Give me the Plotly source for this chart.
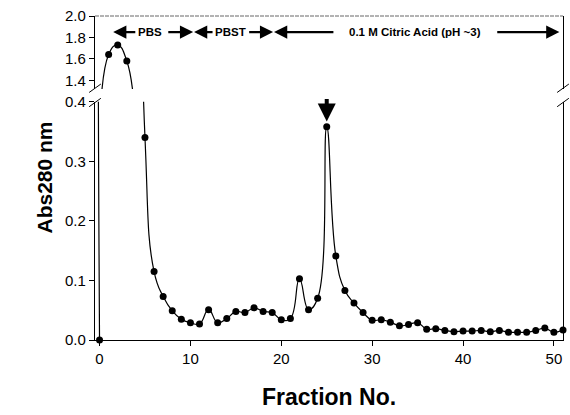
import plotly.graph_objects as go

# ---- data ----
fractions = list(range(0, 52))
abs280 = [0.0, 1.64, 1.73, 1.58, 1.05, 0.34, 0.115, 0.073, 0.049, 0.035,
          0.029, 0.027, 0.051, 0.029, 0.036, 0.048, 0.046, 0.054, 0.048, 0.046,
          0.034, 0.036, 0.103, 0.051, 0.070, 0.358, 0.141, 0.083, 0.062, 0.046,
          0.033, 0.034, 0.030, 0.024, 0.026, 0.029, 0.018, 0.019, 0.016, 0.014,
          0.015, 0.015, 0.016, 0.014, 0.016, 0.013, 0.013, 0.013, 0.016, 0.020,
          0.013, 0.017]

upper_range = [1.32, 2.0]
lower_range = [0.0, 0.4]
upper_ticks = [1.4, 1.6, 1.8, 2.0]
lower_ticks = [0.0, 0.1, 0.2, 0.3, 0.4]
x_ticks = [0, 10, 20, 30, 40, 50]

# buffer segments: (start, end, label, text_center, left_tail, right_tail)
segments = [
    (1.5, 10.3, "PBS", 5.6, 4.1, 7.4),
    (10.4, 19.1, "PBST", 14.4, 12.6, 16.3),
    (19.2, 50.6, "0.1 M Citric Acid (pH ~3)", 34.7, 25.9, 43.6),
]
segment_level = 1.85
peak_fraction = 25
peak_value = 0.367

FONT = "Liberation Sans, Arial, sans-serif"

fig = go.Figure()

line_style = dict(color="black", width=1.2, shape="spline", smoothing=1.3)

for yax, rng in (("y", upper_range), ("y2", lower_range)):
    fig.add_trace(go.Scatter(x=fractions, y=abs280, mode="lines", line=line_style,
                             yaxis=yax, hoverinfo="skip", showlegend=False))
    xs = [f for f, v in zip(fractions, abs280) if rng[0] <= v <= rng[1]]
    ys = [v for v in abs280 if rng[0] <= v <= rng[1]]
    fig.add_trace(go.Scatter(x=xs, y=ys, mode="markers", yaxis=yax,
                             marker=dict(color="black", size=7),
                             cliponaxis=False, showlegend=False))

axis_common = dict(showline=True, linecolor="black", linewidth=1.2,
                   ticks="outside", ticklen=5, tickcolor="black", tickwidth=1.2,
                   showgrid=False, zeroline=False,
                   tickfont=dict(family=FONT, size=15, color="black"))

fig.update_layout(
    width=570, height=415,
    margin=dict(l=95, r=7, t=16, b=75),
    paper_bgcolor="white", plot_bgcolor="white",
    xaxis=dict(range=[-0.5, 51], tickvals=x_ticks, anchor="y2",
               title=dict(text="Fraction No.", standoff=22,
                          font=dict(family=FONT, size=23, color="black", weight="bold")),
               **axis_common),
    yaxis=dict(domain=[0.775, 1.0], range=upper_range, tickvals=upper_ticks,
               tickformat=".1f", anchor="x", mirror=True, **axis_common),
    yaxis2=dict(domain=[0.0, 0.735], range=lower_range, tickvals=lower_ticks,
                tickformat=".1f", anchor="x", mirror=True, **axis_common),
)

# y-axis title
fig.add_annotation(text="<b>Abs280 nm</b>", xref="paper", yref="paper",
                   x=0, y=0.5, xshift=-65, textangle=-90, showarrow=False,
                   font=dict(family=FONT, size=21, color="black"))

# top border of the upper panel
fig.add_shape(type="line", xref="paper", yref="paper", x0=0, x1=1, y0=1, y1=1,
              line=dict(color="#666666", width=1, dash="4px,1px"))

# axis break marks
for xc in (0.0, 1.0):
    for yc in (0.777, 0.733):
        fig.add_shape(type="line", xref="paper", yref="paper",
                      x0=xc - 0.0125, x1=xc + 0.0125, y0=yc - 0.013, y1=yc + 0.013,
                      line=dict(color="black", width=1))

# buffer segment arrows + labels
for start, end, label, center, ltail, rtail in segments:
    for tip, tail in ((start, ltail), (end, rtail)):
        fig.add_annotation(x=tip, y=segment_level, ax=tail, ay=segment_level,
                           xref="x", yref="y", axref="x", ayref="y", text="",
                           showarrow=True, arrowhead=2, arrowsize=1.2,
                           arrowwidth=2.2, arrowcolor="black", standoff=0)
    fig.add_annotation(x=center, y=segment_level, xref="x", yref="y",
                       text="<b>%s</b>" % label, showarrow=False,
                       font=dict(family=FONT, size=11.5, color="black"))

# peak arrow
fig.add_annotation(x=peak_fraction, y=peak_value, xref="x", yref="y2",
                   ax=0, ay=-24, text="", showarrow=True, arrowhead=2,
                   arrowsize=0.9, arrowwidth=4, arrowcolor="black", standoff=0)

fig.write_html("out.html")
